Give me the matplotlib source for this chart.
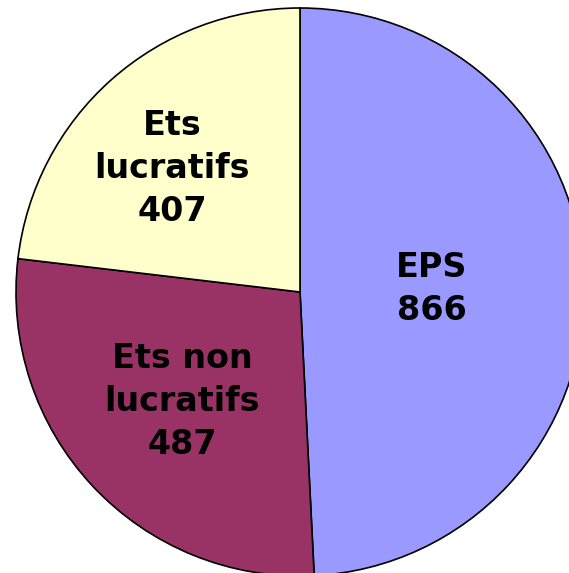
import matplotlib.pyplot as plt

labels = ["EPS", "Ets non\nlucratifs", "Ets\nlucratifs"]
values = [866, 487, 407]
colors = ["#9999FF", "#993366", "#FFFFCC"]

fig = plt.figure(figsize=(5.69, 5.73), dpi=100)
ax = fig.add_axes([16 / 569, -3 / 573, 568 / 569, 568 / 573])

wedges, _ = ax.pie(values, colors=colors, startangle=90, counterclock=False,
                   wedgeprops=dict(edgecolor="black", linewidth=1.2))

# label centres in axes data units
label_pos = [(0.465, 0.01), (-0.415, -0.385), (-0.45, 0.435)]
for lab, v, (x, y) in zip(labels, values, label_pos):
    ax.text(x, y, f"{lab}\n{v}",
            ha="center", va="center", fontsize=24, fontweight="bold",
            family="DejaVu Sans", linespacing=1.38)

ax.set_xlim(-1, 1)
ax.set_ylim(-1, 1)
ax.set_aspect("equal")
ax.axis("off")

fig.savefig("out.png", dpi=100)
